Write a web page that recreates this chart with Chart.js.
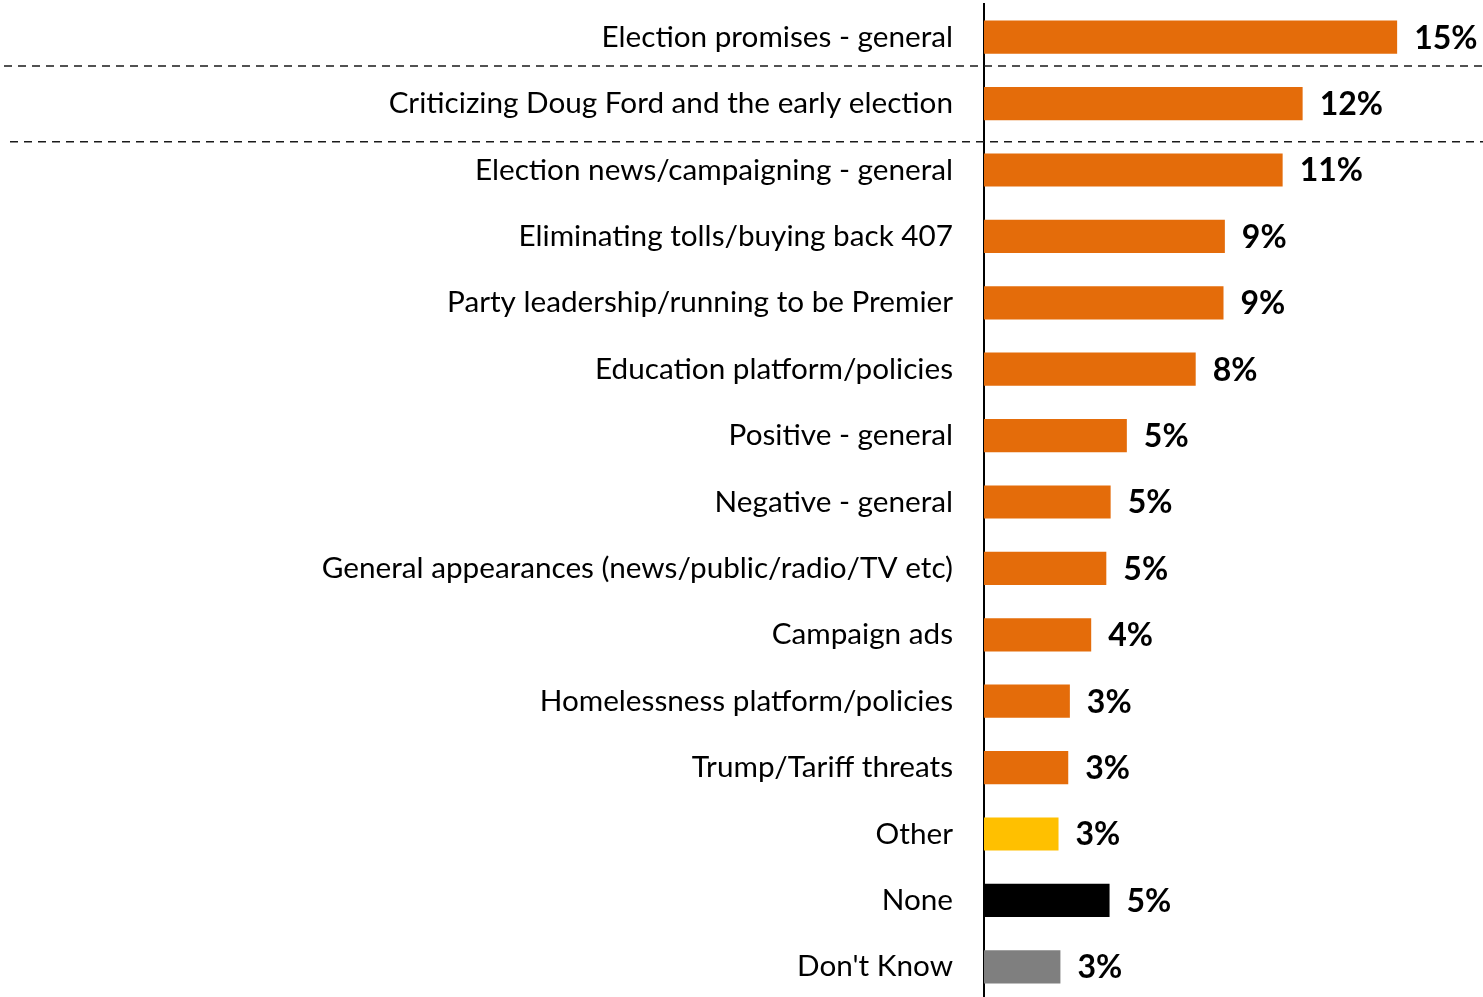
<!DOCTYPE html>
<html>
<head>
<meta charset="utf-8">
<script src="https://cdn.jsdelivr.net/npm/chart.js@4/dist/chart.umd.min.js"></script>
<style>
  html, body { margin: 0; padding: 0; background: #fff; overflow: hidden; }
  #wrap { width: 1483px; height: 1000px; }
</style>
</head>
<body>
<div id="wrap"><canvas id="mentionsChart" width="1483" height="1000"></canvas></div>
<script>
const categories = [
  'Election promises - general',
  'Criticizing Doug Ford and the early election',
  'Election news/campaigning - general',
  'Eliminating tolls/buying back 407',
  'Party leadership/running to be Premier',
  'Education platform/policies',
  'Positive - general',
  'Negative - general',
  'General appearances (news/public/radio/TV etc)',
  'Campaign ads',
  'Homelessness platform/policies',
  'Trump/Tariff threats',
  'Other',
  'None',
  "Don't Know"
];
const values = [15.3, 11.8, 11.06, 8.92, 8.87, 7.84, 5.29, 4.69, 4.53, 3.97, 3.18, 3.12, 2.76, 4.65, 2.83];
const barColors = [
  '#E46C0A', '#E46C0A', '#E46C0A', '#E46C0A', '#E46C0A', '#E46C0A', '#E46C0A', '#E46C0A',
  '#E46C0A', '#E46C0A', '#E46C0A', '#E46C0A', '#FFC000', '#000000', '#7F7F7F'
];

const FONT = 'Lato, "Open Sans", sans-serif';

// percentage labels to the right of each bar
const valueLabels = {
  id: 'valueLabels',
  afterDatasetsDraw(chart) {
    const ctx = chart.ctx;
    const meta = chart.getDatasetMeta(0);
    ctx.save();
    ctx.font = 'bold 32px ' + FONT;
    ctx.fillStyle = '#000';
    ctx.textAlign = 'left';
    ctx.textBaseline = 'middle';
    meta.data.forEach((bar, i) => {
      ctx.fillText(Math.round(values[i]) + '%', bar.x + 17, bar.y + 1);
    });
    ctx.restore();
  }
};

// dashed separators under the first two rows
const separators = {
  id: 'separators',
  afterDraw(chart) {
    const y = chart.scales.y;
    const ctx = chart.ctx;
    const first = (y.getPixelForTick(0) + y.getPixelForTick(1)) / 2 - 4.5;
    const second = (y.getPixelForTick(1) + y.getPixelForTick(2)) / 2 + 5;
    ctx.save();
    ctx.strokeStyle = '#1a1a1a';
    ctx.lineWidth = 1.5;
    ctx.setLineDash([8, 6]);
    ctx.beginPath();
    ctx.moveTo(4, first);
    ctx.lineTo(chart.width, first);
    ctx.moveTo(10, second);
    ctx.lineTo(chart.width, second);
    ctx.stroke();
    ctx.restore();
  }
};

new Chart(document.getElementById('mentionsChart').getContext('2d'), {
  type: 'bar',
  data: {
    labels: categories,
    datasets: [{
      data: values,
      backgroundColor: barColors,
      borderWidth: 0,
      categoryPercentage: 1,
      barPercentage: 0.5
    }]
  },
  options: {
    indexAxis: 'y',
    responsive: false,
    animation: false,
    layout: { padding: { top: 4, right: 0, bottom: 0, left: 0 } },
    plugins: {
      legend: { display: false },
      tooltip: { enabled: false }
    },
    scales: {
      x: {
        display: false,
        min: 0,
        max: 18.48
      },
      y: {
        afterFit: s => {
          s.width = 984;
          s.paddingTop = 0;
          s.paddingBottom = 0;
        },
        grid: { display: false, drawTicks: false },
        border: { display: true, color: '#000', width: 2 },
        ticks: {
          color: '#000',
          padding: 31,
          font: { family: FONT, size: 29.7 }
        }
      }
    }
  },
  plugins: [valueLabels, separators]
});
</script>
</body>
</html>
